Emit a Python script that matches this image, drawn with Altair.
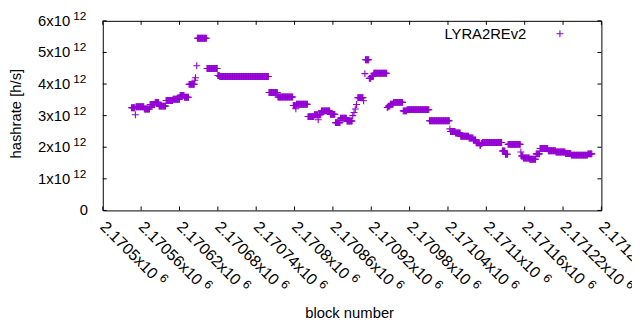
import altair as alt
import pandas as pd

FONT = "Liberation Sans"
PURPLE = "#9400d3"
PLUS = "M-1,0L1,0M0,-1L0,1"
W, H = 505, 192

BASE_BLOCK = 2170500
# runs of blocks with (nearly) constant hashrate estimate: start offset, length, value (x10^12 h/s)
run_start = [45, 51, 52, 65, 74, 82, 88, 99, 110, 121, 128, 135, 144, 145, 147, 148, 163, 180, 183,
             260, 274, 298, 302, 303, 321, 331, 337, 338, 342, 356, 364, 372, 382, 391, 393, 395,
             397, 399, 408, 410, 411, 417, 420, 424, 445, 447, 450, 455, 470, 476, 511, 543, 544,
             552, 560, 573, 580, 584, 590, 592, 594, 625, 630, 634, 654, 655, 658, 668, 678, 684,
             697, 709, 724, 733, 759]
run_len = [6, 1, 13, 9, 8, 6, 11, 11, 11, 7, 7, 9, 1, 1, 1, 15, 17, 3, 77,
           14, 24, 4, 1, 18, 10, 6, 1, 4, 14, 8, 8, 10, 9, 1, 1, 1,
           1, 9, 1, 1, 6, 3, 4, 21, 2, 3, 5, 15, 6, 35, 32, 1, 8,
           8, 13, 7, 4, 6, 2, 2, 31, 5, 4, 20, 1, 3, 10, 10, 6, 13,
           12, 15, 9, 26, 7]
run_val = [3.25, 3.03, 3.28, 3.21, 3.35, 3.42, 3.30, 3.48, 3.52, 3.64, 3.58, 3.99, 4.12, 4.20, 4.58,
           5.45, 4.49, 4.27, 4.24, 3.73, 3.59, 3.32, 3.22, 3.36, 2.97, 3.03, 2.87, 3.03, 3.15, 3.04,
           2.78, 2.92, 2.83, 3.00, 3.10, 3.21, 3.35, 3.57, 3.47, 4.33, 4.77, 4.18, 4.24, 4.34, 3.26,
           3.30, 3.36, 3.42, 3.15, 3.19, 2.84, 2.58, 2.50, 2.45, 2.35, 2.29, 2.23, 2.14, 2.06, 2.12,
           2.15, 1.88, 1.78, 2.09, 1.85, 1.72, 1.66, 1.62, 1.79, 1.96, 1.89, 1.85, 1.80, 1.75, 1.79]

x_tick_vals = [2170500, 2170560, 2170620, 2170680, 2170740, 2170800, 2170860,
               2170920, 2170980, 2171040, 2171100, 2171160, 2171220, 2171280]
x_tick_mant = ["2.1705x10", "2.17056x10", "2.17062x10", "2.17068x10", "2.17074x10",
               "2.1708x10", "2.17086x10", "2.17092x10", "2.17098x10", "2.17104x10",
               "2.1711x10", "2.17116x10", "2.17122x10", "2.17128x10"]
x_tick_exp = ["6"] * 14

y_tick_vals = [0, 1e12, 2e12, 3e12, 4e12, 5e12, 6e12]
y_tick_mant = ["0", "1x10", "2x10", "3x10", "4x10", "5x10", "6x10"]
y_tick_exp = ["", "12", "12", "12", "12", "12", "12"]

series_name = "LYRA2REv2"
x_title = "block number"
y_title = "hashrate [h/s]"

blocks, rates = [], []
for s, n, v in zip(run_start, run_len, run_val):
    for i in range(n):
        blocks.append(BASE_BLOCK + s + i)
        rates.append(v * 1e12)
df = pd.DataFrame({"block": blocks, "hashrate": rates})

xt = pd.DataFrame({"v": x_tick_vals, "m": x_tick_mant, "e": x_tick_exp})
yt = pd.DataFrame({"v": y_tick_vals, "m": y_tick_mant, "e": y_tick_exp})

xs = alt.Scale(domain=[x_tick_vals[0], x_tick_vals[-1]], nice=False, zero=False)
ys = alt.Scale(domain=[y_tick_vals[0], y_tick_vals[-1]], nice=False, zero=False)

X = lambda f: alt.X(f, type="quantitative", scale=xs, axis=None)
Y = lambda f: alt.Y(f, type="quantitative", scale=ys, axis=None)

points = alt.Chart(df).mark_point(shape=PLUS, filled=False, size=49, strokeWidth=1.1,
                                  color=PURPLE, opacity=1).encode(x=X("block"), y=Y("hashrate"))

tb = alt.Chart(xt).mark_rule(color="black", strokeWidth=1).encode(
    x=X("v"), y=alt.value(H), y2=alt.value(H - 4))
tt = alt.Chart(xt).mark_rule(color="black", strokeWidth=1).encode(
    x=X("v"), y=alt.value(0), y2=alt.value(4))
tl = alt.Chart(yt).mark_rule(color="black", strokeWidth=1).encode(
    y=Y("v"), x=alt.value(0), x2=alt.value(4))
tr = alt.Chart(yt).mark_rule(color="black", strokeWidth=1).encode(
    y=Y("v"), x=alt.value(W - 4), x2=alt.value(W))

ylab = alt.Chart(yt).transform_filter("datum.v > 0").mark_text(
    align="right", baseline="middle", font=FONT, fontSize=15, color="black").encode(
    y=Y("v"), x=alt.value(-33), text="m:N")
ylab0 = alt.Chart(yt).transform_filter("datum.v == 0").mark_text(
    align="right", baseline="middle", font=FONT, fontSize=15, color="black").encode(
    y=Y("v"), x=alt.value(-15), text="m:N")
ysup = alt.Chart(yt).transform_filter("datum.v > 0").mark_text(
    align="left", baseline="middle", font=FONT, fontSize=12, color="black", dy=-5).encode(
    y=Y("v"), x=alt.value(-30), text="e:N")

xlab = alt.Chart(xt).mark_text(angle=45, align="left", baseline="middle", font=FONT,
                               fontSize=16, color="black").encode(
    x=X("v"), y=alt.value(H + 14), text="m:N")
xsup9 = alt.Chart(xt).transform_filter("length(datum.m) == 9").mark_text(
    angle=45, align="left", baseline="middle", font=FONT, fontSize=12.5, color="black",
    dx=79, dy=-5).encode(x=X("v"), y=alt.value(H + 14), text="e:N")
xsup10 = alt.Chart(xt).transform_filter("length(datum.m) == 10").mark_text(
    angle=45, align="left", baseline="middle", font=FONT, fontSize=12.5, color="black",
    dx=88, dy=-5).encode(x=X("v"), y=alt.value(H + 14), text="e:N")

one = pd.DataFrame({"t": [series_name], "xt": [x_title], "yt": [y_title]})
ytitle = alt.Chart(one).mark_text(angle=270, align="center", baseline="middle", font=FONT,
                                  fontSize=15, color="black").encode(
    x=alt.value(-88), y=alt.value(94), text="yt:N")
xtitle = alt.Chart(one).mark_text(align="center", baseline="middle", font=FONT,
                                  fontSize=15, color="black").encode(
    x=alt.value(250), y=alt.value(296), text="xt:N")
legt = alt.Chart(one).mark_text(align="right", baseline="middle", font=FONT,
                                fontSize=15, color="black").encode(
    x=alt.value(429), y=alt.value(13), text="t:N")
legm = alt.Chart(one).mark_point(shape=PLUS, filled=False, size=49, strokeWidth=1.1,
                                 color=PURPLE, opacity=1).encode(x=alt.value(463), y=alt.value(13))

chart = alt.layer(points, tb, tt, tl, tr, ylab, ylab0, ysup, xlab, xsup9, xsup10,
                  ytitle, xtitle, legt, legm).properties(
    width=W, height=H,
    autosize=alt.AutoSizeParams(type="none"),
    padding={"left": 96, "top": 11, "right": 31, "bottom": 111},
    background="white",
).configure_view(stroke="black", strokeWidth=1)

chart.save("out.html", embed_options={"renderer": "svg", "actions": False})
